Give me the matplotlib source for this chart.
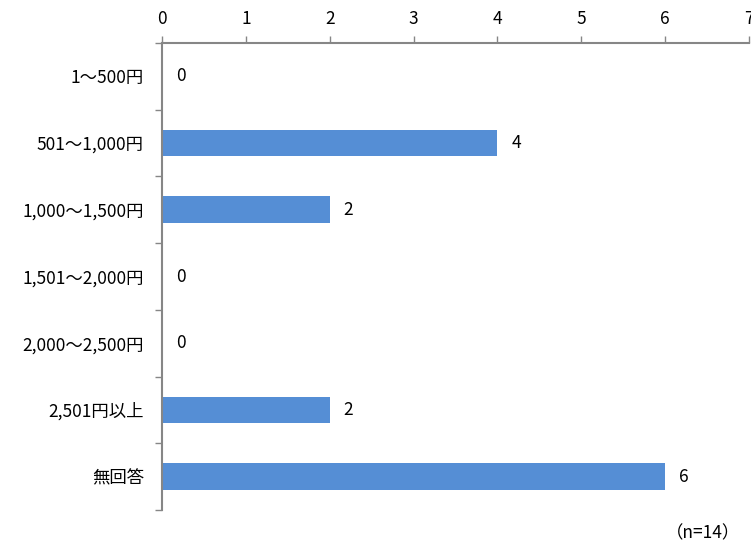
import matplotlib
matplotlib.use("Agg")
import matplotlib.pyplot as plt
import numpy as np

plt.rcParams['font.family'] = ['Noto Sans CJK JP', 'DejaVu Sans']

categories = ["1～500円", "501～1,000円", "1,000～1,500円", "1,501～2,000円",
              "2,000～2,500円", "2,501円以上", "無回答"]
values = [0, 4, 2, 0, 0, 2, 6]
xticks = [0, 1, 2, 3, 4, 5, 6, 7]
note = "（n=14）"

bar_color = "#558ED5"
spine_color = "#868686"

fig = plt.figure(figsize=(7.51, 5.42), dpi=100)
ax = fig.add_axes([162/751, 32/542, 587/751, 467/542])

y = np.arange(len(categories))
ax.barh(y, values, height=0.4, color=bar_color, zorder=2)
ax.set_ylim(len(categories) - 0.5, -0.5)
ax.set_xlim(0, 7)

for yi, v in zip(y, values):
    ax.annotate(str(v), (v, yi), xytext=(10, 0), textcoords="offset points",
                va="center", ha="left", fontsize=12.5, color="#000000")

ax.xaxis.tick_top()
ax.set_xticks(xticks)
ax.set_xticklabels([str(t) for t in xticks], fontsize=12.5)
ax.tick_params(axis="x", which="major", direction="out", length=5, width=1,
               color=spine_color, pad=6)

ax.set_yticks(y)
ax.set_yticklabels(categories, fontsize=12.5)
ax.set_yticks(np.arange(-0.5, len(categories) + 0.5, 1), minor=True)
ax.tick_params(axis="y", which="major", length=0, pad=13)
ax.tick_params(axis="y", which="minor", direction="out", length=5, width=1,
               color=spine_color)

for s in ["right", "bottom"]:
    ax.spines[s].set_visible(False)
for s in ["left", "top"]:
    ax.spines[s].set_color(spine_color)
    ax.spines[s].set_linewidth(1.5)

fig.text(740/751, 1 - 533/542, note, ha="right", va="center", fontsize=12.5)

fig.savefig("out.png", dpi=100)
